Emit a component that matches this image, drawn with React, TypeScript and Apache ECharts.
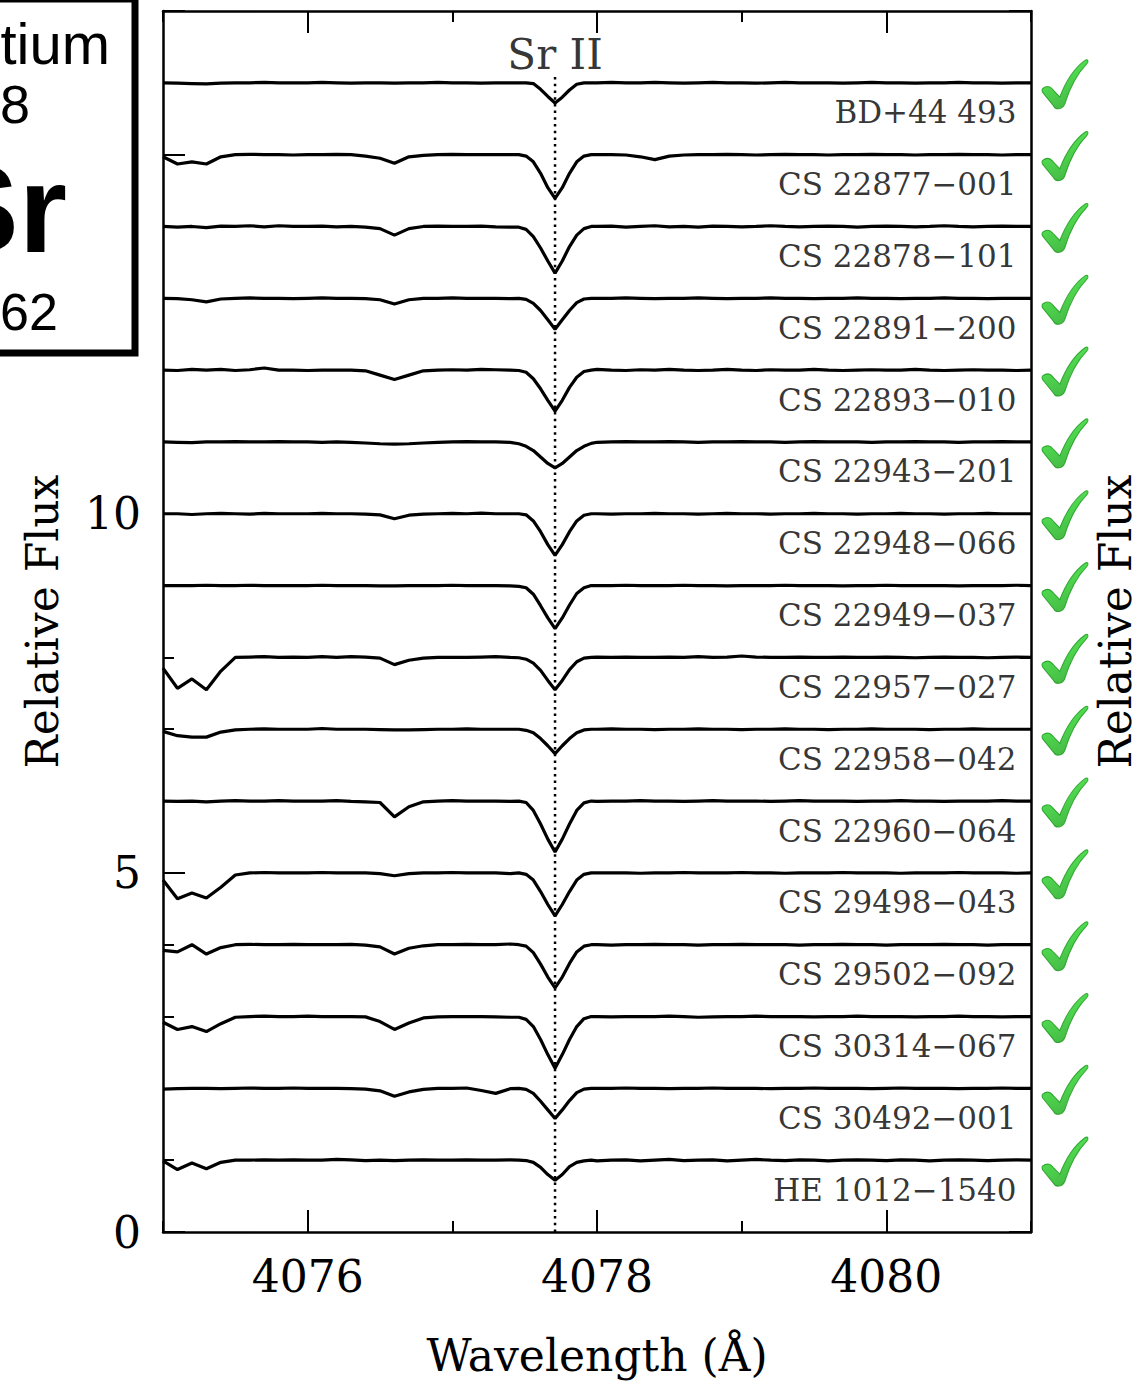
import React, { useEffect, useRef } from "react";
import * as echarts from "echarts";

// ---------- DATA ----------
const wavelengths = [
  4075.0, 4075.1, 4075.2, 4075.3, 4075.4, 4075.5, 4075.6, 4075.7, 4075.8, 4075.9,
  4076.0, 4076.1, 4076.2, 4076.3, 4076.4, 4076.5, 4076.6, 4076.7, 4076.8, 4076.9,
  4077.0, 4077.1, 4077.2, 4077.3, 4077.4,
  4077.46, 4077.51, 4077.56, 4077.61, 4077.66, 4077.71, 4077.76, 4077.81, 4077.86, 4077.91, 4077.96,
  4078.0, 4078.1, 4078.2, 4078.3, 4078.4, 4078.5, 4078.6, 4078.7, 4078.8, 4078.9,
  4079.0, 4079.1, 4079.2, 4079.3, 4079.4, 4079.5, 4079.6, 4079.7, 4079.8, 4079.9,
  4080.0, 4080.1, 4080.2, 4080.3, 4080.4, 4080.5, 4080.6, 4080.7, 4080.8, 4080.9, 4081.0,
];

const starNames = [
  "BD+44 493",
  "CS 22877−001",
  "CS 22878−101",
  "CS 22891−200",
  "CS 22893−010",
  "CS 22943−201",
  "CS 22948−066",
  "CS 22949−037",
  "CS 22957−027",
  "CS 22958−042",
  "CS 22960−064",
  "CS 29498−043",
  "CS 29502−092",
  "CS 30314−067",
  "CS 30492−001",
  "HE 1012−1540",
];

const offsets = [15, 14, 13, 12, 11, 10, 9, 8, 7, 6, 5, 4, 3, 2, 1, 0];

const flux01 = [
  1.0, 0.995, 0.99, 0.985, 0.995, 1.0, 1.0, 1.005, 1.0, 1.0, 1.0, 1.005, 1.0, 0.995, 1.0, 1.0, 0.995, 1.0, 1.0, 1.005, 1.0, 1.0, 0.995, 1.0, 1.0,
  1.0, 1.0, 0.99, 0.91, 0.81, 0.72, 0.8, 0.9, 0.98, 1.0, 1.0,
  1.0, 1.005, 1.0, 1.0, 1.005, 1.0, 0.995, 1.0, 1.005, 1.0, 1.0, 0.995, 1.0, 1.005, 1.0, 1.0, 1.0, 0.995, 1.0, 1.005, 1.0, 1.0, 0.995, 1.0, 1.0, 1.005, 1.0, 1.0, 0.995, 1.0, 1.0,
];
const flux02 = [
  0.97, 0.87, 0.9, 0.87, 0.97, 1.0, 1.005, 1.0, 1.0, 0.995, 1.0, 1.0, 1.005, 1.0, 0.98, 0.95, 0.88, 0.97, 0.99, 1.0, 1.005, 1.0, 1.0, 1.0, 1.0,
  1.0, 0.98, 0.9, 0.74, 0.54, 0.39, 0.54, 0.74, 0.9, 0.98, 1.0,
  1.0, 1.0, 0.995, 0.97, 0.93, 0.98, 0.995, 1.0, 1.0, 1.005, 1.0, 0.995, 1.0, 1.005, 1.0, 1.0, 0.995, 1.0, 1.0, 1.005, 1.0, 1.0, 0.995, 1.0, 1.0, 1.005, 1.0, 1.0, 0.995, 1.0, 1.0,
];
const flux03 = [
  1.0, 0.99, 1.0, 0.985, 1.005, 1.0, 1.01, 0.995, 1.01, 1.0, 1.0, 1.005, 0.995, 1.0, 0.99, 0.97, 0.88, 0.97, 1.0, 1.005, 1.0, 1.0, 1.005, 0.995, 0.99,
  0.99, 0.96, 0.86, 0.7, 0.52, 0.35, 0.52, 0.72, 0.88, 0.97, 1.0,
  1.0, 1.005, 0.99, 1.0, 1.01, 0.995, 1.0, 0.99, 1.005, 1.0, 0.995, 1.0, 1.01, 1.0, 0.995, 1.0, 1.005, 1.0, 0.99, 1.0, 1.005, 1.0, 0.995, 1.0, 1.01, 1.0, 0.995, 1.0, 1.005, 1.0, 1.0,
];
const flux04 = [
  1.0, 0.995, 0.98, 0.95, 0.99, 1.0, 1.005, 1.0, 1.0, 0.995, 1.0, 1.005, 1.0, 1.0, 0.995, 0.98, 0.92, 0.98, 1.0, 1.0, 1.005, 1.0, 1.0, 1.0, 0.995,
  1.0, 0.985, 0.93, 0.83, 0.7, 0.57, 0.7, 0.83, 0.94, 0.99, 1.0,
  1.0, 1.0, 1.005, 1.0, 0.995, 1.0, 1.0, 1.005, 1.0, 0.995, 1.0, 1.0, 1.005, 1.0, 1.0, 0.995, 1.0, 1.0, 1.005, 1.0, 1.0, 0.995, 1.0, 1.0, 1.005, 1.0, 1.0, 0.995, 1.0, 1.0, 1.0,
];
const flux05 = [
  1.0, 0.995, 1.01, 1.0, 1.01, 0.995, 1.005, 1.03, 1.0, 1.0, 0.995, 1.0, 1.0, 1.0, 0.99, 0.93, 0.87, 0.93, 0.99, 1.0, 1.005, 1.0, 1.01, 1.005, 1.0,
  0.995, 0.97, 0.88, 0.74, 0.58, 0.43, 0.58, 0.76, 0.9, 0.98, 1.0,
  1.01, 1.0, 0.995, 1.005, 1.0, 1.01, 1.0, 0.995, 1.0, 1.01, 1.0, 0.995, 1.005, 1.0, 1.0, 1.01, 1.0, 0.995, 1.0, 1.005, 1.0, 1.0, 1.01, 1.0, 0.995, 1.0, 1.005, 1.0, 1.0, 0.995, 1.0,
];
const flux06 = [
  1.0, 0.995, 0.99, 1.0, 1.0, 1.005, 1.0, 1.0, 1.005, 1.0, 1.0, 0.995, 1.0, 0.995, 0.985, 0.975, 0.97, 0.975, 0.985, 0.995, 1.0, 1.005, 1.0, 1.0, 0.995,
  0.975, 0.94, 0.88, 0.79, 0.7, 0.64, 0.7, 0.79, 0.88, 0.94, 0.98,
  0.995, 1.0, 1.005, 1.0, 1.0, 1.005, 1.0, 0.995, 1.0, 1.0, 1.005, 1.0, 1.0, 0.995, 1.0, 1.005, 1.0, 1.0, 1.0, 0.995, 1.0, 1.0, 1.005, 1.0, 1.0, 0.995, 1.0, 1.0, 1.005, 1.0, 1.0,
];
const flux07 = [
  1.0, 1.0, 0.99, 1.0, 1.005, 1.0, 0.995, 1.005, 1.0, 1.0, 1.0, 1.005, 1.0, 1.0, 0.995, 0.985, 0.93, 0.98, 0.995, 1.0, 1.005, 1.0, 1.01, 1.0, 1.0,
  1.0, 0.985, 0.9, 0.75, 0.57, 0.42, 0.57, 0.75, 0.9, 0.98, 1.0,
  1.0, 0.995, 1.0, 1.0, 1.005, 1.0, 1.0, 0.995, 1.0, 1.005, 1.0, 1.0, 0.995, 1.0, 1.0, 1.005, 1.0, 1.0, 0.995, 1.0, 1.0, 1.005, 1.0, 1.0, 0.995, 1.0, 1.0, 1.005, 1.0, 1.0, 1.0,
];
const flux08 = [
  1.0, 1.0, 1.0, 1.005, 1.0, 1.0, 1.005, 1.0, 1.0, 1.0, 1.0, 1.005, 1.0, 1.0, 1.0, 0.995, 0.995, 1.0, 1.0, 1.0, 1.005, 1.0, 1.0, 1.0, 0.995,
  0.99, 0.97, 0.88, 0.72, 0.55, 0.4, 0.55, 0.73, 0.89, 0.97, 1.0,
  1.0, 1.0, 1.005, 1.0, 1.0, 1.0, 1.005, 1.0, 1.0, 0.995, 1.0, 1.0, 1.0, 1.005, 1.0, 1.0, 1.0, 0.995, 1.0, 1.0, 1.005, 1.0, 1.0, 1.0, 1.0, 0.995, 1.0, 1.0, 1.0, 1.005, 1.0,
];
const flux09 = [
  0.85, 0.57, 0.7, 0.55, 0.81, 1.0, 1.005, 1.01, 1.0, 1.005, 1.0, 1.01, 1.0, 1.01, 1.005, 0.99, 0.9, 0.96, 0.99, 1.0, 1.0, 1.0, 1.005, 1.01, 1.0,
  0.995, 0.975, 0.92, 0.82, 0.68, 0.55, 0.68, 0.83, 0.94, 0.99, 1.0,
  1.005, 1.0, 1.005, 1.0, 1.0, 1.005, 1.0, 1.01, 1.0, 1.005, 1.02, 1.005, 1.0, 1.0, 1.005, 1.0, 1.0, 1.005, 1.0, 1.0, 1.005, 1.0, 0.995, 1.0, 1.005, 1.0, 1.0, 0.995, 1.0, 1.005, 1.0,
];
const flux10 = [
  0.97, 0.91, 0.89, 0.89, 0.96, 0.99, 1.0, 1.005, 1.0, 1.0, 1.0, 1.01, 1.0, 1.0, 1.0, 0.995, 0.99, 0.99, 0.995, 1.0, 1.0, 1.005, 1.0, 1.0, 1.0,
  1.0, 0.985, 0.95, 0.87, 0.77, 0.66, 0.77, 0.87, 0.95, 0.99, 1.0,
  1.0, 1.005, 1.0, 1.0, 0.995, 1.0, 1.0, 1.005, 1.0, 1.0, 0.995, 1.0, 1.0, 1.005, 1.0, 1.0, 0.995, 1.0, 1.0, 1.005, 1.0, 1.0, 1.0, 0.995, 1.0, 1.0, 1.005, 1.0, 1.0, 1.0, 1.0,
];
const flux11 = [
  1.0, 0.995, 1.0, 0.99, 1.0, 1.005, 1.0, 1.0, 1.005, 1.0, 1.0, 1.0, 1.005, 0.995, 0.99, 0.98, 0.78, 0.92, 0.99, 1.0, 1.005, 1.0, 1.0, 1.0, 0.995,
  1.0, 0.98, 0.87, 0.68, 0.47, 0.29, 0.47, 0.68, 0.87, 0.975, 1.0,
  0.995, 1.0, 1.0, 1.005, 1.0, 1.0, 0.995, 1.0, 1.005, 1.0, 1.0, 1.0, 0.995, 1.0, 1.005, 1.0, 1.0, 1.0, 0.995, 1.0, 1.0, 1.005, 1.0, 1.0, 0.995, 1.0, 1.0, 1.0, 1.005, 1.0, 1.0,
];
const flux12 = [
  0.9, 0.64, 0.72, 0.65, 0.8, 0.97, 1.0, 1.005, 1.0, 1.0, 1.0, 1.005, 1.0, 1.0, 1.0, 0.99, 0.96, 0.99, 1.0, 1.0, 1.005, 1.0, 1.0, 1.0, 0.99,
  1.0, 0.98, 0.9, 0.74, 0.56, 0.4, 0.56, 0.74, 0.9, 0.98, 1.0,
  1.0, 1.0, 1.0, 0.995, 1.0, 1.0, 1.005, 1.0, 1.0, 1.0, 1.005, 1.0, 1.0, 0.995, 1.0, 1.0, 1.0, 1.005, 1.0, 1.0, 1.0, 0.995, 1.0, 1.0, 1.0, 1.005, 1.0, 1.0, 1.0, 0.995, 1.0,
];
const flux13 = [
  0.92, 0.9, 1.0, 0.87, 0.96, 1.0, 1.005, 1.0, 1.0, 1.005, 1.0, 1.0, 1.0, 1.005, 0.995, 0.97, 0.87, 0.95, 0.985, 1.0, 1.0, 1.005, 1.0, 1.0, 1.01,
  1.0, 0.98, 0.89, 0.73, 0.55, 0.4, 0.55, 0.74, 0.9, 0.98, 1.0,
  1.0, 0.995, 1.0, 1.0, 1.005, 1.0, 1.0, 0.995, 1.0, 1.0, 1.005, 1.0, 1.0, 1.0, 0.995, 1.0, 1.0, 1.005, 1.0, 1.0, 0.995, 1.0, 1.0, 1.0, 1.005, 1.0, 1.0, 0.995, 1.0, 1.0, 1.0,
];
const flux14 = [
  0.92, 0.82, 0.86, 0.79, 0.9, 0.99, 1.0, 1.005, 1.0, 1.0, 1.005, 1.0, 1.0, 1.0, 0.995, 0.93, 0.82, 0.91, 0.98, 0.995, 1.0, 1.0, 1.0, 0.995, 0.99,
  0.99, 0.96, 0.86, 0.68, 0.47, 0.28, 0.47, 0.68, 0.86, 0.97, 1.0,
  1.0, 0.995, 1.0, 1.0, 1.0, 1.005, 1.0, 0.99, 0.995, 1.0, 1.0, 1.005, 1.0, 1.0, 1.0, 0.995, 1.0, 1.0, 1.005, 1.0, 1.0, 1.0, 0.995, 1.0, 1.0, 1.005, 1.0, 1.0, 0.995, 1.0, 1.0,
];
const flux15 = [
  0.99, 0.995, 1.0, 1.0, 0.995, 1.0, 1.005, 1.0, 1.0, 1.005, 1.0, 1.0, 1.0, 0.995, 0.99, 0.965, 0.89, 0.95, 0.985, 1.0, 1.0, 1.005, 0.97, 0.93, 0.995,
  1.0, 0.985, 0.93, 0.82, 0.7, 0.58, 0.7, 0.83, 0.94, 0.99, 1.0,
  1.0, 1.0, 1.005, 1.0, 1.0, 0.995, 1.0, 1.0, 1.005, 1.0, 1.0, 1.0, 0.995, 1.0, 1.0, 1.005, 1.0, 1.0, 1.0, 0.995, 1.0, 1.005, 1.0, 1.0, 1.0, 0.995, 1.0, 1.0, 1.005, 1.0, 1.0,
];
const flux16 = [
  0.99, 0.87, 0.96, 0.88, 0.97, 1.0, 1.0, 1.005, 1.0, 1.005, 1.0, 1.0, 1.01, 1.005, 0.995, 1.0, 0.995, 1.0, 1.005, 1.0, 1.0, 1.005, 1.0, 1.0, 1.005,
  1.0, 0.995, 0.97, 0.9, 0.8, 0.72, 0.8, 0.91, 0.97, 0.99, 1.0,
  0.99, 1.0, 1.005, 0.99, 1.0, 1.01, 0.995, 1.0, 1.005, 0.99, 1.0, 1.01, 1.0, 0.995, 1.005, 1.0, 0.99, 1.0, 1.005, 1.0, 0.995, 1.005, 1.0, 0.99, 1.0, 1.005, 1.0, 0.995, 1.0, 1.005, 1.0,
];

const spectra = [
  flux01, flux02, flux03, flux04, flux05, flux06, flux07, flux08,
  flux09, flux10, flux11, flux12, flux13, flux14, flux15, flux16,
];

const xMajorTicks = [4076, 4078, 4080];
const yLabelTicks = [0, 5, 10];
const srLineWavelength = 4077.71;
const srLineTop = 16.08;
const srLabelY = 16.4;
const srLabel = "Sr II";
const nameLabelX = 4080.9;
const nameLabelDy = -0.41;
const checkX = 4081.235;
const checkDy = -0.02;

// visible parts of the (cropped) periodic-table tile
const tileName = "tium";
const tileNumber = "8";
const tileSymbol = "Sr";
const tileMass = "62";

// ---------- STYLE ----------
const SERIF = "DejaVu Serif";
const SANS = "Liberation Sans";
const CHECK_PATH =
  "path://M1,28 C5,25 9,26 12,30 L18,36 C24,21 33,8 43,1 C46,-1 47,2 45,4 C36,13 28,27 23,43 C21,48 14,49 12,45 L2,33 C0,31 0,29 1,28 Z";

const frameLine = { show: true, onZero: false, lineStyle: { color: "#000", width: 2.5 } };
const noLine = { show: false, onZero: false };
const majorTick = (vals?: number[]) => ({
  show: true,
  inside: true,
  length: 22,
  lineStyle: { color: "#000", width: 2 },
  ...(vals ? { customValues: vals } : {}),
});
const minorTick = { show: true, inside: true, length: 11, lineStyle: { color: "#000", width: 2 } };

export default function App() {
  const ref = useRef<HTMLDivElement>(null);

  useEffect(() => {
    if (!ref.current) return;
    const chart = echarts.init(ref.current, undefined, { renderer: "svg" });

    const xBase = { type: "value", min: 4075, max: 4081, splitLine: { show: false } };
    const yBase = { type: "value", min: 0, max: 17, splitLine: { show: false } };

    const spectrumSeries = spectra.map((flux, k) => ({
      type: "line",
      name: starNames[k],
      xAxisIndex: 0,
      yAxisIndex: 0,
      showSymbol: false,
      symbol: "none",
      silent: true,
      z: 3,
      lineStyle: { color: "#000", width: 3.2 },
      data: wavelengths.map((w, i) => [w, flux[i] + offsets[k]]),
    }));

    const option: any = {
      animation: false,
      backgroundColor: "#fff",
      textStyle: { fontFamily: SERIF },
      grid: { left: 163, right: 117, top: 11, bottom: 161, outerBoundsMode: "none", containLabel: false },
      xAxis: [
        {
          ...xBase,
          position: "bottom",
          interval: 1,
          axisLine: frameLine,
          axisTick: majorTick(xMajorTicks),
          axisLabel: {
            show: true,
            customValues: xMajorTicks,
            formatter: (v: number) => String(v),
            margin: 22,
            fontSize: 44,
            fontFamily: SERIF,
            color: "#000",
          },
          name: "Wavelength (Å)",
          nameLocation: "middle",
          nameGap: 101,
          nameTextStyle: { fontSize: 44, fontFamily: SERIF, color: "#000" },
        },
        { ...xBase, position: "bottom", interval: 1, axisLine: noLine, axisTick: minorTick, axisLabel: { show: false } },
        { ...xBase, position: "top", interval: 1, axisLine: frameLine, axisTick: majorTick(xMajorTicks), axisLabel: { show: false } },
        { ...xBase, position: "top", interval: 1, axisLine: noLine, axisTick: minorTick, axisLabel: { show: false } },
      ],
      yAxis: [
        {
          ...yBase,
          position: "left",
          interval: 5,
          axisLine: frameLine,
          axisTick: majorTick(),
          axisLabel: {
            show: true,
            customValues: yLabelTicks,
            formatter: (v: number) => String(v),
            margin: 22,
            fontSize: 44,
            fontFamily: SERIF,
            color: "#000",
          },
          name: "Relative Flux",
          nameLocation: "middle",
          nameRotate: 90,
          nameGap: 99,
          nameTextStyle: { fontSize: 44, fontFamily: SERIF, color: "#000" },
        },
        { ...yBase, position: "left", interval: 1, axisLine: noLine, axisTick: minorTick, axisLabel: { show: false } },
        {
          ...yBase,
          position: "right",
          interval: 5,
          axisLine: frameLine,
          axisTick: majorTick(),
          axisLabel: { show: false },
          name: "Relative Flux",
          nameLocation: "middle",
          nameRotate: 90,
          nameGap: 62,
          nameTextStyle: { fontSize: 44, fontFamily: SERIF, color: "#000" },
        },
        { ...yBase, position: "right", interval: 1, axisLine: noLine, axisTick: minorTick, axisLabel: { show: false } },
      ],
      series: [
        {
          type: "line",
          name: "Sr II line",
          xAxisIndex: 0,
          yAxisIndex: 0,
          showSymbol: false,
          symbol: "none",
          silent: true,
          z: 2,
          lineStyle: { color: "#000", width: 2.5, type: [2.5, 4.2] },
          data: [
            [srLineWavelength, 0],
            [srLineWavelength, srLineTop],
          ],
        },
        ...spectrumSeries,
        {
          type: "scatter",
          name: "labels",
          xAxisIndex: 0,
          yAxisIndex: 0,
          symbolSize: 0,
          silent: true,
          z: 4,
          label: {
            show: true,
            position: "left",
            distance: 0,
            formatter: (p: any) => p.data[2],
            fontSize: 31,
            fontFamily: SERIF,
            color: "#000",
          },
          data: starNames.map((n, k) => [nameLabelX, offsets[k] + 1 + nameLabelDy, n]),
        },
        {
          type: "scatter",
          name: "srlabel",
          xAxisIndex: 0,
          yAxisIndex: 0,
          symbolSize: 0,
          silent: true,
          z: 4,
          label: {
            show: true,
            position: "inside",
            formatter: (p: any) => p.data[2],
            fontSize: 42,
            fontFamily: SERIF,
            color: "#000",
          },
          data: [[srLineWavelength, srLabelY, srLabel]],
        },
        {
          type: "scatter",
          name: "checks",
          xAxisIndex: 0,
          yAxisIndex: 0,
          clip: false,
          silent: true,
          symbol: CHECK_PATH,
          symbolSize: [46, 49],
          z: 5,
          itemStyle: {
            color: {
              type: "linear",
              x: 0,
              y: 0,
              x2: 0.5,
              y2: 1,
              colorStops: [
                { offset: 0, color: "#2ef02e" },
                { offset: 1, color: "#17a817" },
              ],
            },
            borderColor: "#159515",
            borderWidth: 1,
          },
          data: offsets.map((o) => [checkX, o + 1 + checkDy]),
        },
      ],
      graphic: [
        {
          type: "group",
          z: 100,
          children: [
            {
              type: "rect",
              shape: { x: -200, y: -1, width: 335, height: 354 },
              style: { fill: "#fff", stroke: "#000", lineWidth: 7 },
              z: 100,
            },
            {
              type: "text",
              x: 110,
              y: 43,
              z: 101,
              style: { text: tileName, fontSize: 58, fontFamily: SANS, fill: "#000", align: "right", verticalAlign: "middle" },
            },
            {
              type: "text",
              x: 0,
              y: 104,
              z: 101,
              style: { text: tileNumber, fontSize: 54, fontFamily: SANS, fill: "#000", align: "left", verticalAlign: "middle" },
            },
            {
              type: "text",
              x: 67,
              y: 209,
              z: 101,
              style: { text: tileSymbol, fontSize: 124, fontWeight: "bold", fontFamily: SANS, fill: "#000", align: "right", verticalAlign: "middle" },
            },
            {
              type: "text",
              x: 0,
              y: 312,
              z: 101,
              style: { text: tileMass, fontSize: 52, fontFamily: SANS, fill: "#000", align: "left", verticalAlign: "middle" },
            },
          ],
        },
      ],
    };

    chart.setOption(option);
    return () => chart.dispose();
  }, []);

  return (
    <div
      ref={ref}
      style={{ position: "absolute", left: 0, top: 0, width: 1148, height: 1393, background: "#fff" }}
    />
  );
}
